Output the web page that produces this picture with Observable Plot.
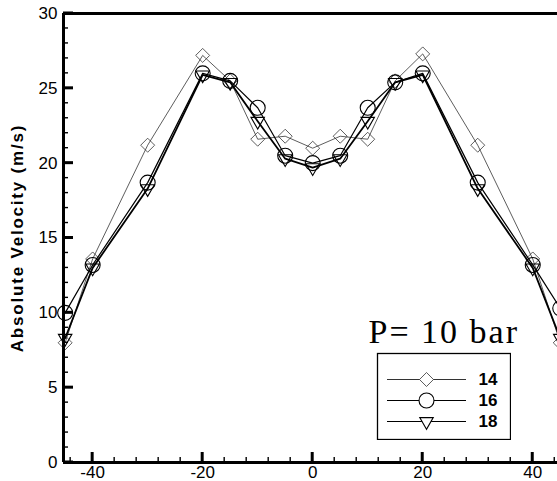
<!DOCTYPE html>
<html>
<head>
<meta charset="utf-8">
<script src="https://cdn.jsdelivr.net/npm/d3@7"></script>
<script src="https://cdn.jsdelivr.net/npm/@observablehq/plot@0.6"></script>
<style>
  html, body { margin: 0; padding: 0; background: #fff; }
  #wrap { position: relative; width: 557px; height: 481px; overflow: hidden; }
  #ticks { position: absolute; left: 0; top: 0; pointer-events: none; }
  #legend { position: absolute; left: 376px; top: 352px; }
</style>
</head>
<body>
<div id="wrap"><div id="main"></div><div id="ticks"></div><div id="legend"></div></div>
<script>
// Radial position (x) and absolute velocity (m/s) per series
const positions = [-45, -40, -30, -20, -15, -10, -5, 0, 5, 10, 15, 20, 30, 40, 45];
const seriesNames = ["14", "16", "18"];
const v14 = [8.0, 13.6, 21.2, 27.2, 25.5, 21.6, 21.8, 21.0, 21.8, 21.6, 25.5, 27.3, 21.2, 13.6, 8.0];
const v16 = [10.0, 13.2, 18.7, 26.0, 25.5, 23.7, 20.5, 20.0, 20.5, 23.7, 25.4, 26.0, 18.7, 13.2, 10.3];
const v18 = [8.3, 13.0, 18.3, 25.9, 25.4, 22.8, 20.3, 19.7, 20.3, 22.8, 25.4, 25.9, 18.3, 13.0, 8.3];
const xMajorTicks = [-40, -20, 0, 20, 40];
const xMinorTicks = [-44, -40, -36, -32, -28, -24, -20, -16, -12, -8, -4, 0, 4, 8, 12, 16, 20, 24, 28, 32, 36, 40, 44];
const yMajorTicks = [0, 5, 10, 15, 20, 25, 30];
const yMinorTicks = d3.range(0, 31, 1);
const yLabel = "Absolute Velocity (m/s)";
const noteText = "P= 10 bar";

const styles = {
  "14": {symbol: "diamond2", r: 6.3, lw: 0.8, mw: 0.8, stroke: "#333"},
  "16": {symbol: "circle", r: 7.5, lw: 1.2, mw: 1.1, stroke: "#000"},
  "18": {symbol: "triangle", r: 5, lw: 1.8, mw: 1.1, stroke: "#000"}
};
const valuesBy = {"14": v14, "16": v16, "18": v18};
const rows = seriesNames.flatMap(s => positions.map((p, i) => ({series: s, x: p, v: valuesBy[s][i]})));

const W = 557, H = 481, ML = 63, MR = 0, MT = 13, MB = 19;
const xDomain = [-45.3, 44.5], yDomain = [0, 30];
const frameW = W - ML - MR, frameH = H - MT - MB;
// pixel tick lengths converted to data units
const xPerPx = (xDomain[1] - xDomain[0]) / frameW;
const yPerPx = (yDomain[1] - yDomain[0]) / frameH;

const seriesMarks = seriesNames.flatMap(s => {
  const st = styles[s];
  const data = rows.filter(d => d.series === s);
  return [
    Plot.line(data, {x: "x", y: "v", stroke: st.stroke, strokeWidth: st.lw}),
    Plot.dot(data, {x: "x", y: "v", symbol: () => st.symbol, r: st.r, stroke: st.stroke, strokeWidth: st.mw, fill: "none", rotate: s === "18" ? 180 : 0})
  ];
});

const main = Plot.plot({
  width: W, height: H, marginLeft: ML, marginRight: MR, marginTop: MT, marginBottom: MB,
  x: {domain: xDomain},
  y: {domain: yDomain},
  style: {fontFamily: "'Liberation Sans', Arial, sans-serif", fontSize: "17px", background: "#fff", color: "#000"},
  marks: [
    Plot.axisY({ticks: yMajorTicks, tickSize: 0, tickPadding: 6, tickFormat: d => String(d), label: null, fontSize: 17}),
    Plot.axisX({ticks: xMajorTicks, tickSize: 0, tickPadding: 3, tickFormat: d => String(d), label: null, fontSize: 17}),
    ...seriesMarks,
    Plot.text([yLabel], {text: d => d, frameAnchor: "left", textAnchor: "middle", dx: -46, rotate: -90, fontWeight: "bold", fontSize: 17}),
    Plot.text([noteText], {text: d => d, frameAnchor: "top-left", dx: 305, dy: 329, textAnchor: "start", lineAnchor: "bottom", fontFamily: "'Liberation Serif', 'Times New Roman', serif", fontSize: 34}),
    Plot.ruleX([xDomain[0]], {stroke: "#000", strokeWidth: 3}),
    Plot.ruleY([yDomain[0]], {stroke: "#000", strokeWidth: 3}),
    Plot.ruleY([yDomain[1]], {stroke: "#000", strokeWidth: 3})
  ]
});
document.getElementById("main").appendChild(main);
d3.select(main).selectAll("text").filter(function () { return this.textContent === yLabel; }).style("letter-spacing", "1.8px");
d3.select(main).selectAll("text").filter(function () { return this.textContent === noteText; }).style("letter-spacing", "2px");

// inward ticks on a transparent overlay with the same scales, drawn as filled rects
const tickOverlay = Plot.plot({
  width: W, height: H, marginLeft: ML, marginRight: MR, marginTop: MT, marginBottom: MB,
  x: {domain: xDomain},
  y: {domain: yDomain},
  axis: null,
  style: {background: "transparent"},
  marks: [
    Plot.rect(yMinorTicks, {x1: xDomain[0], x2: xDomain[0] + 5 * xPerPx, y1: d => d - 0.7 * yPerPx, y2: d => d + 0.7 * yPerPx, fill: "#000"}),
    Plot.rect(yMajorTicks, {x1: xDomain[0], x2: xDomain[0] + 10 * xPerPx, y1: d => d - 1.5 * yPerPx, y2: d => d + 1.5 * yPerPx, fill: "#000"}),
    Plot.rect(xMinorTicks, {x1: d => d - 0.7 * xPerPx, x2: d => d + 0.7 * xPerPx, y1: yDomain[0], y2: yDomain[0] + 5 * yPerPx, fill: "#000"}),
    Plot.rect(xMajorTicks, {x1: d => d - 1.5 * xPerPx, x2: d => d + 1.5 * xPerPx, y1: yDomain[0], y2: yDomain[0] + 10 * yPerPx, fill: "#000"})
  ]
});
document.getElementById("ticks").appendChild(tickOverlay);

const legend = Plot.plot({
  width: 135, height: 88, margin: 0,
  x: {type: "identity"},
  y: {type: "point", domain: seriesNames, range: [27, 69], padding: 0},
  axis: null,
  style: {fontFamily: "'Liberation Sans', Arial, sans-serif", fontSize: "17px", background: "#fff"},
  marks: [
    Plot.frame({stroke: "#000", strokeWidth: 1.3, fill: "#fff", inset: 1}),
    Plot.ruleY(seriesNames, {y: d => d, x1: 11, x2: 90, stroke: d => styles[d].stroke, strokeWidth: 1.1}),
    ...seriesNames.map(s => Plot.dot([s], {x: 50, y: d => d, symbol: () => styles[s].symbol, r: styles[s].r, stroke: styles[s].stroke, strokeWidth: styles[s].mw, fill: "#fff", rotate: s === "18" ? 180 : 0})),
    Plot.text(seriesNames, {x: 102, y: d => d, text: d => d, textAnchor: "start", fontWeight: "bold", fontSize: 17})
  ]
});
document.getElementById("legend").appendChild(legend);
</script>
</body>
</html>
